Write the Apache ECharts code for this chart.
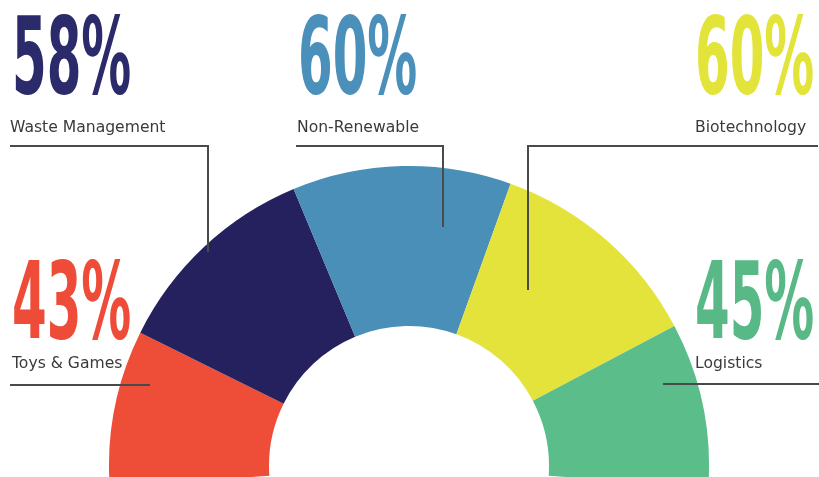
<!DOCTYPE html>
<html>
<head>
<meta charset="utf-8">
<script src="https://cdn.jsdelivr.net/npm/echarts@6/dist/echarts.min.js"></script>
<style>
html,body{margin:0;padding:0;background:#fff;}
#c{width:819px;height:477px;}
</style>
</head>
<body>
<div id="c"></div>
<script>
// Data
const categories = ['Toys & Games', 'Waste Management', 'Non-Renewable', 'Biotechnology', 'Logistics'];
const values = [43, 58, 60, 60, 45];
const colors = ['#ee4d37', '#25215e', '#4a8fb8', '#e4e33c', '#5abd8a'];
const numColors = ['#ee4c38', '#2b2a6b', '#4a90ba', '#e2e43a', '#58b987'];

// Layout of annotations (positions only)
const layout = [
  { nx: 12, ny: 256, tx: 12, ty: 364, line: [[10, 385], [150, 385]] },
  { nx: 12, ny: 11, tx: 10, ty: 128, line: [[10, 146], [208, 146], [208, 252]] },
  { nx: 298, ny: 11, tx: 297, ty: 128, line: [[296, 146], [443, 146], [443, 227]] },
  { nx: 695, ny: 11, tx: 695, ty: 128, line: [[818, 146], [528, 146], [528, 290]] },
  { nx: 695, ny: 256, tx: 695, ty: 364, line: [[663, 384], [819, 384]] }
];

const chart = echarts.init(document.getElementById('c'), null, { renderer: 'canvas' });

const graphics = [];
categories.forEach(function (name, i) {
  const L = layout[i];
  graphics.push({
    type: 'polyline',
    shape: { points: L.line },
    style: { stroke: '#4a4a4a', lineWidth: 2, fill: null },
    z: 10
  });
  graphics.push({
    type: 'text',
    x: L.nx, y: L.ny,
    scaleX: 0.486,
    scaleY: 0.943,
    style: {
      text: values[i] + '%',
      font: 'bold 114px "Liberation Sans Narrow", "DejaVu Sans Condensed", sans-serif',
      fill: numColors[i],
      align: 'left',
      verticalAlign: 'top'
    },
    z: 10
  });
  graphics.push({
    type: 'text',
    x: L.tx, y: L.ty,
    style: {
      text: name,
      font: '15.6px "DejaVu Sans", sans-serif',
      fill: '#3a3a3a',
      align: 'left',
      verticalAlign: 'middle'
    },
    z: 10
  });
});

chart.setOption({
  animation: false,
  backgroundColor: '#ffffff',
  graphic: graphics,
  series: [{
    type: 'pie',
    silent: true,
    center: [409, 466],
    radius: [140, 300],
    startAngle: 184,
    endAngle: -4,
    clockwise: true,
    label: { show: false },
    labelLine: { show: false },
    itemStyle: { borderWidth: 0 },
    data: categories.map(function (n, i) {
      return { name: n, value: values[i], itemStyle: { color: colors[i] } };
    })
  }]
});
</script>
</body>
</html>
